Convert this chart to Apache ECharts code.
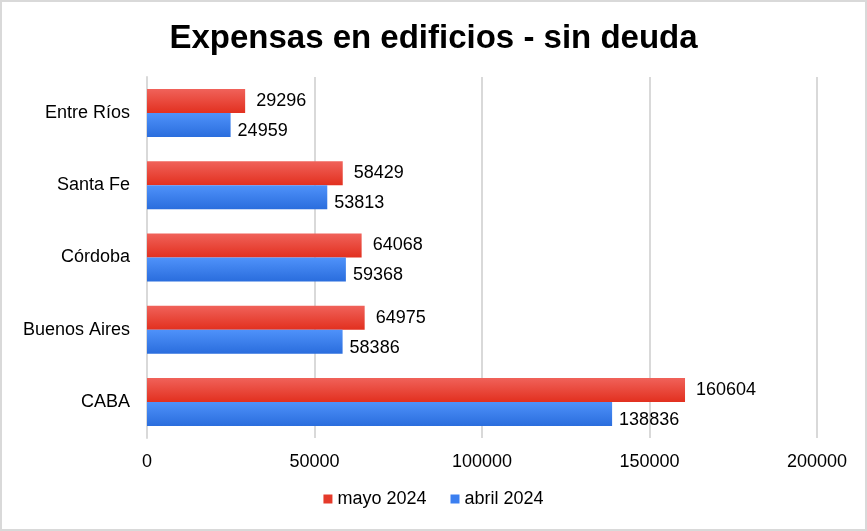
<!DOCTYPE html>
<html>
<head>
<meta charset="utf-8">
<script src="https://cdn.jsdelivr.net/npm/echarts@6/dist/echarts.min.js"></script>
<style>
html,body{margin:0;padding:0;background:#fff;}
#c{width:867px;height:531px;}
</style>
</head>
<body>
<div id="c"></div>
<script>
const categories = ['CABA', 'Buenos Aires', 'Córdoba', 'Santa Fe', 'Entre Ríos'];
const mayo2024 = [160604, 64975, 64068, 58429, 29296];
const abril2024 = [138836, 58386, 59368, 53813, 24959];
const xTicks = [0, 50000, 100000, 150000, 200000];
const seriesNames = ['mayo 2024', 'abril 2024'];

const FONT = '"Liberation Sans", Arial, sans-serif';
const chart = echarts.init(document.getElementById('c'));

function grad(top, bottom) {
  return new echarts.graphic.LinearGradient(0, 0, 0, 1, [
    {offset: 0, color: top}, {offset: 1, color: bottom}
  ]);
}

chart.setOption({
  animation: false,
  textStyle: {fontFamily: FONT},
  graphic: [{
    type: 'rect', shape: {x: 1, y: 1, width: 865, height: 529},
    style: {fill: 'none', stroke: '#d9d9d9', lineWidth: 2}, silent: true
  }],
  title: {
    text: 'Expensas en edificios - sin deuda',
    left: 'center', top: 17,
    textStyle: {fontFamily: FONT, fontSize: 33, fontWeight: 'bold', color: '#000'}
  },
  legend: {
    data: [
      {name: seriesNames[0], itemStyle: {color: '#e53a2a'}},
      {name: seriesNames[1], itemStyle: {color: '#3b7ff0'}}
    ],
    bottom: 18, left: 'center',
    itemWidth: 9, itemHeight: 9, itemGap: 24,
    icon: 'rect',
    textStyle: {fontFamily: FONT, fontSize: 18, color: '#000'}
  },
  grid: {left: 147, right: 50, top: 77, bottom: 93, containLabel: false},
  xAxis: {
    type: 'value', min: xTicks[0], max: xTicks[xTicks.length - 1], interval: xTicks[1] - xTicks[0],
    axisLine: {show: false}, axisTick: {show: false},
    splitLine: {lineStyle: {color: '#d9d9d9', width: 2}},
    axisLabel: {fontFamily: FONT, fontSize: 18, color: '#000', margin: 15, formatter: v => String(v)}
  },
  yAxis: {
    type: 'category', data: categories,
    axisLine: {lineStyle: {color: '#d9d9d9', width: 2}},
    axisTick: {show: false},
    axisLabel: {fontFamily: FONT, fontSize: 18, color: '#000', margin: 17}
  },
  series: [
    {
      name: seriesNames[0], type: 'bar', data: mayo2024,
      barWidth: 24, barGap: '0%',
      itemStyle: {color: grad('#f0625a', '#e2301f')},
      label: {show: true, position: 'right', distance: 11, fontFamily: FONT, fontSize: 18, color: '#000'}
    },
    {
      name: seriesNames[1], type: 'bar', data: abril2024,
      barWidth: 24, barGap: '0%',
      itemStyle: {color: grad('#4f92fa', '#2a6ddd')},
      label: {show: true, position: 'right', distance: 7, offset: [0, 6], fontFamily: FONT, fontSize: 18, color: '#000'}
    }
  ]
});
</script>
</body>
</html>
